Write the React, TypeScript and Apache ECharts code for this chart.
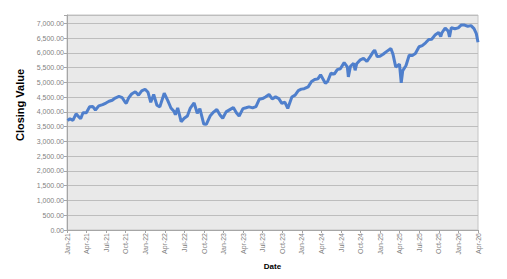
import React, { useEffect, useRef } from "react";
import * as echarts from "echarts";

const dates: string[] = [
  "2021-01-04","2021-01-15","2021-01-29","2021-02-12","2021-02-26","2021-03-04","2021-03-15","2021-03-31",
  "2021-04-15","2021-04-30","2021-05-12","2021-05-28","2021-06-15","2021-06-30","2021-07-15","2021-07-30",
  "2021-08-13","2021-08-31","2021-09-15","2021-09-30","2021-10-04","2021-10-15","2021-10-29","2021-11-15",
  "2021-11-30","2021-12-15","2021-12-31",
  "2022-01-14","2022-01-27","2022-02-09","2022-02-23","2022-03-08","2022-03-29","2022-04-14","2022-04-29",
  "2022-05-13","2022-05-20","2022-05-31","2022-06-16","2022-06-30","2022-07-15","2022-07-29","2022-08-16",
  "2022-08-31","2022-09-12","2022-09-30","2022-10-12","2022-10-31","2022-11-15","2022-11-30","2022-12-15",
  "2022-12-28",
  "2023-01-13","2023-01-31","2023-02-15","2023-02-28","2023-03-13","2023-03-31","2023-04-14","2023-04-28",
  "2023-05-15","2023-05-31","2023-06-15","2023-06-30","2023-07-14","2023-07-31","2023-08-15","2023-08-31",
  "2023-09-15","2023-09-29","2023-10-13","2023-10-27","2023-11-15","2023-11-30","2023-12-15","2023-12-29",
  "2024-01-12","2024-01-31","2024-02-15","2024-02-29","2024-03-15","2024-03-28","2024-04-19","2024-04-30",
  "2024-05-15","2024-05-31","2024-06-14","2024-06-28","2024-07-16","2024-07-31","2024-08-05","2024-08-15",
  "2024-08-30","2024-09-06","2024-09-13","2024-09-30","2024-10-15","2024-10-31","2024-11-15","2024-11-29",
  "2024-12-06","2024-12-18","2024-12-31",
  "2025-01-15","2025-01-31","2025-02-19","2025-02-28","2025-03-13","2025-03-31","2025-04-08","2025-04-15",
  "2025-04-30","2025-05-15","2025-05-30","2025-06-13","2025-06-30","2025-07-15","2025-07-31","2025-08-15",
  "2025-08-29","2025-09-15","2025-09-30","2025-10-10","2025-10-15","2025-10-31","2025-11-14","2025-11-20",
  "2025-11-28","2025-12-15","2025-12-31",
  "2026-01-15","2026-01-30","2026-02-13","2026-02-27","2026-03-13","2026-03-24","2026-04-01"
];

const closingValues: number[] = [
  3700, 3768, 3714, 3934, 3811, 3768, 3968, 3973,
  4170, 4181, 4063, 4204, 4246, 4298, 4360, 4395,
  4468, 4523, 4480, 4308, 4300, 4471, 4605, 4682,
  4567, 4709, 4766,
  4663, 4326, 4587, 4225, 4170, 4631, 4392, 4132,
  4024, 3901, 4132, 3667, 3785, 3863, 4130, 4305,
  3955, 4110, 3586, 3577, 3872, 3992, 4080, 3896,
  3783,
  3999, 4077, 4148, 3970, 3855, 4109, 4138, 4169,
  4136, 4180, 4426, 4450, 4505, 4589, 4438, 4508,
  4450, 4288, 4327, 4117, 4502, 4568, 4719, 4770,
  4784, 4846, 5030, 5096, 5117, 5254, 4967, 5036,
  5308, 5278, 5431, 5460, 5667, 5522, 5186, 5543,
  5648, 5408, 5626, 5762, 5815, 5705, 5870, 6032,
  6090, 5872, 5882,
  5950, 6040, 6144, 5955, 5522, 5612, 4982, 5396,
  5569, 5916, 5912, 5977, 6205, 6244, 6339, 6450,
  6460, 6615, 6688, 6552, 6671, 6840, 6734, 6538,
  6849, 6816, 6845,
  6944, 6939, 6900, 6920, 6820, 6650, 6360
];

const monthNames: string[] = ["Jan", "Feb", "Mar", "Apr", "May", "Jun", "Jul", "Aug", "Sep", "Oct", "Nov", "Dec"];

function monthIndex(d: string): number {
  const [y, m, day] = d.split("-").map(Number);
  const dim = new Date(y, m, 0).getDate();
  return (y - 2021) * 12 + (m - 1) + (day - 1) / dim;
}

export default function App() {
  const ref = useRef<HTMLDivElement>(null);
  useEffect(() => {
    if (!ref.current) return;
    const chart = echarts.init(ref.current, null, { renderer: "svg" });
    const font = "'Liberation Sans', Arial, sans-serif";
    chart.setOption({
      animation: false,
      backgroundColor: "#ffffff",
      grid: {
        left: 67,
        right: 29,
        top: 15,
        bottom: 49,
        show: true,
        backgroundColor: "#e9e9e9",
        borderColor: "#c4c4c4",
        borderWidth: 1,
      },
      graphic: [
        {
          type: "text",
          x: 20,
          y: 105,
          rotation: Math.PI / 2,
          style: {
            text: "Closing Value",
            font: "bold 11px " + font,
            fill: "#000",
            align: "center",
            verticalAlign: "middle",
          },
        },
      ],
      xAxis: {
        type: "value",
        min: 0,
        max: 63,
        interval: 3,
        name: "Date",
        nameLocation: "middle",
        nameGap: 29,
        nameTextStyle: { fontFamily: font, fontWeight: "bold", fontSize: 8, color: "#000" },
        axisLine: { show: true, lineStyle: { color: "#a6a6a6" } },
        axisTick: { show: true, length: 3, lineStyle: { color: "#a6a6a6" } },
        splitLine: { show: false },
        axisLabel: {
          rotate: 90,
          fontSize: 7,
          fontFamily: font,
          color: "#7f7f7f",
          margin: 3,
          formatter: (v: number) => {
            const y = 21 + Math.floor(v / 12);
            return monthNames[v % 12] + "-" + y;
          },
        },
      },
      yAxis: {
        type: "value",
        min: 0,
        max: 7280,
        interval: 500,
        axisLine: { show: true, lineStyle: { color: "#a6a6a6" } },
        axisTick: { show: true, length: 3, lineStyle: { color: "#a6a6a6" } },
        splitLine: { show: true, lineStyle: { color: "#bdbdbd", width: 1 } },
        axisLabel: {
          fontSize: 7,
          fontFamily: font,
          color: "#7f7f7f",
          margin: 3,
          formatter: (v: number) =>
            v % 500 === 0
              ? v.toLocaleString("en-US", { minimumFractionDigits: 2, maximumFractionDigits: 2 })
              : "",
        },
      },
      series: [
        {
          type: "line",
          data: dates.map((d, i) => [monthIndex(d), closingValues[i]]),
          showSymbol: false,
          lineStyle: { color: "#4f7fcc", width: 3 },
          z: 3,
        },
      ],
    });
    return () => chart.dispose();
  }, []);
  return <div ref={ref} style={{ width: 507, height: 279, position: "absolute", left: 0, top: 0 }} />;
}
